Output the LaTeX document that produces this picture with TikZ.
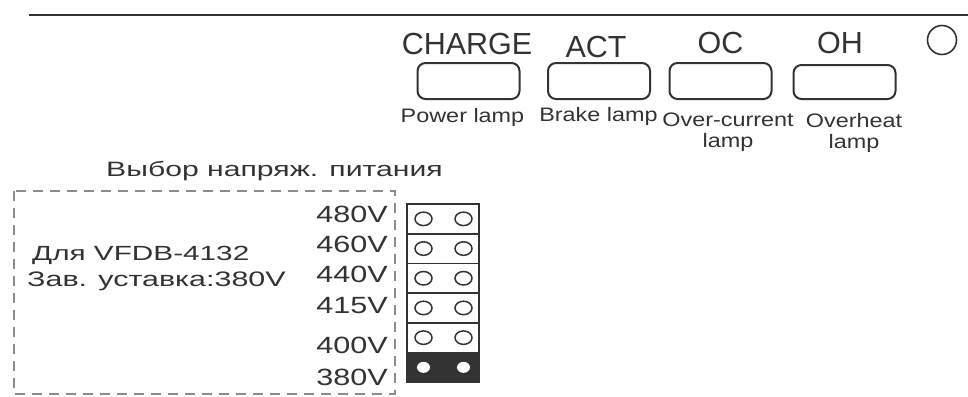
\documentclass[tikz,border=0pt]{standalone}
\usepackage{fontspec}
\setmainfont{Liberation Sans}
\newfontfamily\lampfont[FakeStretch=1.2]{Liberation Sans}
\newfontfamily\widefont[FakeStretch=1.45]{Liberation Sans}
\newfontfamily\voltfont[FakeStretch=1.3]{Liberation Sans}
\usepackage{tikz}
\usetikzlibrary{shapes,positioning}
\definecolor{ink}{HTML}{333333}
\definecolor{dashgray}{HTML}{8C8C8C}

\begin{document}
\begin{tikzpicture}[
      x=1pt, y=-1pt,
      big/.style={inner sep=0, anchor=base, text=ink, font=\fontsize{30.5}{34}\selectfont},
      small/.style={inner sep=0, text=ink, align=center, font=\lampfont\fontsize{19.5}{21}\selectfont},
      wide/.style={inner sep=0, anchor=base west, text=ink, font=\widefont\fontsize{20.5}{24}\selectfont},
      volt/.style={inner sep=0, anchor=base east, text=ink, font=\voltfont\fontsize{23.5}{26}\selectfont},
      lamp/.style={rectangle, draw=ink, line width=2, rounded corners=8pt,
                   minimum width=102, minimum height=36, inner sep=0},
      jrow/.style={rectangle, draw=ink, line width=1.8, minimum width=72, minimum height=29.7, inner sep=0},
      hole/.style={ellipse, draw=ink, line width=1.5, minimum width=17, minimum height=13.5, inner sep=0},
      dashbox/.style={draw=dashgray, line width=2, dash pattern=on 10pt off 7pt},
    ]
    \useasboundingbox (0,0) rectangle (968,396);

    \draw[ink, line width=2.4] (29,15) -- (968,15);
    \node[circle, draw=ink, line width=1.6, minimum size=29, inner sep=0] (led) at (942,40) {};

    \node[big] (charge) at (467,55)   {CHARGE};
    \node[big] (act)    at (596,57)   {ACT};
    \node[big] (oc)     at (720.5,54) {OC};
    \node[big] (oh)     at (840,54)   {OH};

    \node[lamp] (lampcharge) at (468.5,81) {};
    \node[lamp] (lampact)    at (599,81)   {};
    \node[lamp] (lampoc)     at (720.5,81) {};
    \node[lamp, minimum height=34] (lampoh) at (844.5,82) {};

    \node[small, anchor=base] (power)  at (462.5,122) {Power lamp};
    \node[small, anchor=base] (brake)  at (598.5,121) {Brake lamp};
    \node[small, anchor=north] (over)  at (728,112.8) {Over-current\\lamp};
    \node[small, anchor=north] (heat)  at (854,112.8) {Overheat\\lamp};

    \node[wide, font=\widefont\fontsize{20.8}{24}\selectfont] (select) at (106,176) {Выбор напряж. питания};
    \draw[dashbox] (14,191) rectangle (395,394);
    \node[wide] (model)   at (32,260) {Для VFDB-4132};
    \node[wide, font=\widefont\fontsize{21}{24}\selectfont] (factory) at (27,286) {Зав. уставка:380V};

    \node[volt] (v480) at (388,222) {480V};
    \node[volt] (v460) at (388,252) {460V};
    \node[volt] (v440) at (388,282) {440V};
    \node[volt] (v415) at (388,313) {415V};
    \node[volt] (v400) at (388,353) {400V};
    \node[volt] (v380) at (388,385) {380V};

    \node[jrow] (j480) at (443,218.85) {};
    \node[jrow] (j460) at (443,248.55) {};
    \node[jrow] (j440) at (443,278.25) {};
    \node[jrow] (j415) at (443,307.95) {};
    \node[jrow] (j400) at (443,337.65) {};
    \node[jrow, fill=ink] (j380) at (443,367.35) {};

    \node[hole] (h480a) at (423.5,218.85) {};
    \node[hole] (h480b) at (463.5,218.85) {};
    \node[hole] (h460a) at (423.5,248.55) {};
    \node[hole] (h460b) at (463.5,248.55) {};
    \node[hole] (h440a) at (423.5,278.25) {};
    \node[hole] (h440b) at (463.5,278.25) {};
    \node[hole] (h415a) at (423.5,307.95) {};
    \node[hole] (h415b) at (463.5,307.95) {};
    \node[hole] (h400a) at (423.5,337.65) {};
    \node[hole] (h400b) at (463.5,337.65) {};
    \node[hole, draw=none, fill=white, minimum width=13, minimum height=11] (h380a) at (423.5,367.35) {};
    \node[hole, draw=none, fill=white, minimum width=13, minimum height=11] (h380b) at (463.5,367.35) {};
  \end{tikzpicture}
\end{document}
